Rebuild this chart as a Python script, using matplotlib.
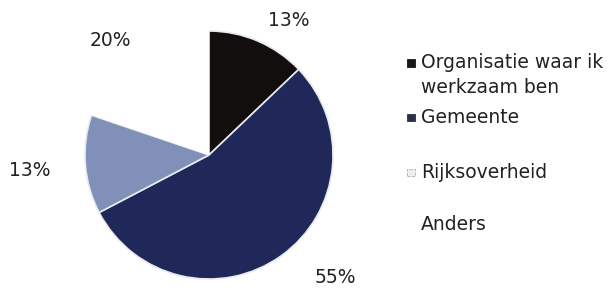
import matplotlib
matplotlib.use("Agg")
import matplotlib.pyplot as plt
from matplotlib.patches import Rectangle
import numpy as np

categories = ["Organisatie waar ik\nwerkzaam ben", "Gemeente", "Rijksoverheid", "Anders"]
values = [13, 55, 13, 20]
pct_labels = ["13%", "55%", "13%", "20%"]
colors = ["#120e0e", "#1f2858", "#8190b8", "#ffffff"]
legend_face = ["#1a1616", "#2a2f4a", "#eceef3", "#ffffff"]
legend_edge = ["#1a1616", "#2a2f4a", "#a8aebb", "#ffffff"]

# label placement (angle in degrees, distance in radii) - layout only
label_pos = [(59.5, 1.26), (-44.0, 1.42), (185.0, 1.45), (130.7, 1.22)]

fig = plt.figure(figsize=(6.13, 2.90), dpi=100)
ax = fig.add_axes([85/613, 11/290, 248/613, 248/290])
wedges, _ = ax.pie(values, colors=colors, startangle=90, counterclock=False,
                   radius=1.0, wedgeprops=dict(edgecolor="#e8eaf0", linewidth=1.2))
wedges[-1].set_edgecolor("none")
ax.set_xlim(-1, 1)
ax.set_ylim(-1, 1)
ax.set_aspect("equal")
ax.axis("off")

for lab, (ang, d) in zip(pct_labels, label_pos):
    a = np.deg2rad(ang)
    ax.text(d*np.cos(a), d*np.sin(a), lab, ha="center", va="center",
            fontsize=13.5, color="#222222", family="DejaVu Sans", clip_on=False)

# legend
leg_y = [63, 118, 172, 224]
tx = 421/613
for cat, fc, ec, y in zip(categories, legend_face, legend_edge, leg_y):
    yf = 1 - y/290
    if fc != "#ffffff":
        fig.add_artist(Rectangle((407/613, yf - 3.5/290), 8/613, 7/290,
                                 transform=fig.transFigure, facecolor=fc,
                                 edgecolor=ec, lw=0.6,
                                 linestyle="--" if fc == "#eceef3" else "-"))
    if "\n" in cat:
        first, second = cat.split("\n")
        fig.text(tx, yf, first, ha="left", va="center",
                 fontsize=13.5, color="#222222", family="DejaVu Sans")
        fig.text(tx, 1 - (y + 25)/290, second, ha="left", va="center",
                 fontsize=13.5, color="#222222", family="DejaVu Sans")
    else:
        fig.text(tx, yf, cat, ha="left", va="center",
                 fontsize=13.5, color="#222222", family="DejaVu Sans")

fig.savefig("out.png", dpi=100)
